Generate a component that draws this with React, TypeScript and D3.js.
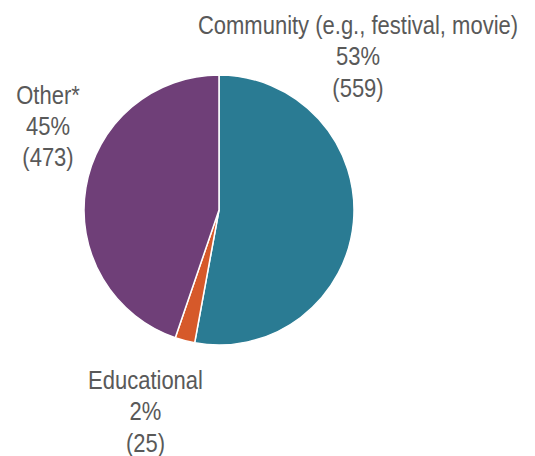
import React from "react";
import * as d3 from "d3";

const categories = ["Community (e.g., festival, movie)", "Educational", "Other*"];
const counts = [559, 25, 473];
const percents = ["53%", "2%", "45%"];
const colors = ["#2a7b93", "#d6592a", "#6f3f78"];

const W = 535, H = 456;
const cx = 219, cy = 210, R = 135;

const labelPos = [
  { x: 358, y: 34 },
  { x: 145.5, y: 389 },
  { x: 48, y: 103.5 },
];

export default function App() {
  const pie = d3.pie<number>().sort(null).value((d) => d)(counts);
  const arc = d3.arc<d3.PieArcDatum<number>>().innerRadius(0).outerRadius(R);
  return (
    <svg width={W} height={H} style={{ position: "absolute", left: 0, top: 0 }}>
      <rect width={W} height={H} fill="#fff" />
      <g transform={`translate(${cx},${cy})`}>
        {pie.map((p, i) => (
          <path key={i} d={arc(p) || ""} fill={colors[i]} stroke="#fff" strokeWidth={1.5} />
        ))}
      </g>
      {categories.map((c, i) => (
        <text
          key={i}
          transform={`translate(${labelPos[i].x},${labelPos[i].y}) scale(0.83,1)`}
          textAnchor="middle"
          fill="#595959"
          style={{ fontFamily: "'Liberation Sans', Arial, sans-serif", fontSize: 26.5 }}
        >
          <tspan x={0} y={0}>{c}</tspan>
          <tspan x={0} y={31.5}>{percents[i]}</tspan>
          <tspan x={0} y={63}>({counts[i]})</tspan>
        </text>
      ))}
    </svg>
  );
}
